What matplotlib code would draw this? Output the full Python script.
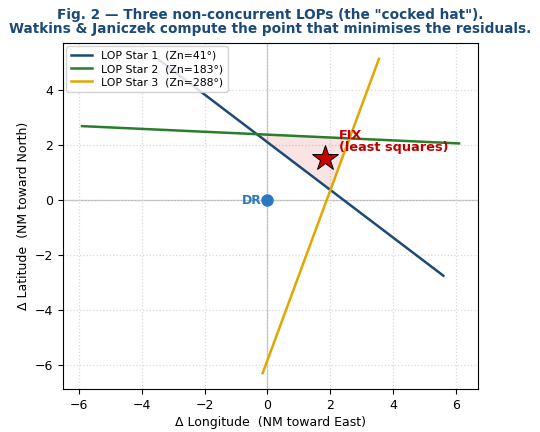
import numpy as np
import matplotlib
matplotlib.use("Agg")
import matplotlib.pyplot as plt

# LOP end points (NM from DR, x = East, y = North)
lop_names = ["LOP Star 1  (Zn=41°)", "LOP Star 2  (Zn=183°)", "LOP Star 3  (Zn=288°)"]
lop1_x = [-3.46, 5.60]
lop1_y = [5.12, -2.75]
lop2_x = [-5.90, 6.10]
lop2_y = [2.70, 2.07]
lop3_x = [-0.15, 3.55]
lop3_y = [-6.30, 5.15]

# cocked hat corners and the fix
hat_x = [-0.34, 2.61, 2.01]
hat_y = [2.41, 2.25, 0.37]
fix_x, fix_y = 1.83, 1.55
dr_x, dr_y = 0.0, 0.0

colors = ["#1b4a78", "#2a7d2a", "#e3a600"]

fig, ax = plt.subplots(figsize=(5.4, 4.32), dpi=100)

ax.grid(True, color="#d8d8d8", linestyle=":", linewidth=0.9)
ax.axhline(0, color="#bbbbbb", linewidth=0.9, zorder=1)
ax.axvline(0, color="#bbbbbb", linewidth=0.9, zorder=1)

for xs, ys, c, lab in zip([lop1_x, lop2_x, lop3_x], [lop1_y, lop2_y, lop3_y], colors, lop_names):
    ax.plot(xs, ys, color=c, linewidth=1.8, label=lab, zorder=3)

ax.fill(hat_x, hat_y, color="#d62728", alpha=0.13, zorder=2, linewidth=0)

ax.plot(fix_x, fix_y, marker="*", markersize=19, color="#c80000",
        markeredgecolor="black", markeredgewidth=0.7, linestyle="none", zorder=5)
ax.annotate("FIX\n(least squares)", (fix_x, fix_y), xytext=(10, 2.5),
            textcoords="offset points", color="#c00000", fontsize=9.3,
            fontweight="bold", va="bottom", ha="left", linespacing=0.95)

ax.plot(dr_x, dr_y, marker="o", markersize=8, color="#2b78c2", linestyle="none", zorder=5)
ax.annotate("DR", (dr_x, dr_y), xytext=(-4, 0), textcoords="offset points",
            color="#2b78c2", fontsize=9, fontweight="bold", ha="right", va="center")

ax.tick_params(labelsize=9)
ax.set_xlabel("Δ Longitude  (NM toward East)", fontsize=9, labelpad=3)
ax.set_ylabel("Δ Latitude  (NM toward North)", fontsize=9)
ax.legend(loc="upper left", fontsize=7.8, framealpha=0.85, labelspacing=0.3,
          borderaxespad=0.3)

fig.suptitle("Fig. 2 — Three non-concurrent LOPs (the \"cocked hat\").\n"
             "Watkins & Janiczek compute the point that minimises the residuals.",
             fontsize=9.8, fontweight="bold", color="#1b4a78", y=0.982, linespacing=1.05)

fig.subplots_adjust(left=0.117, right=0.885, top=0.9, bottom=0.1)
fig.savefig("out.png", dpi=100)
